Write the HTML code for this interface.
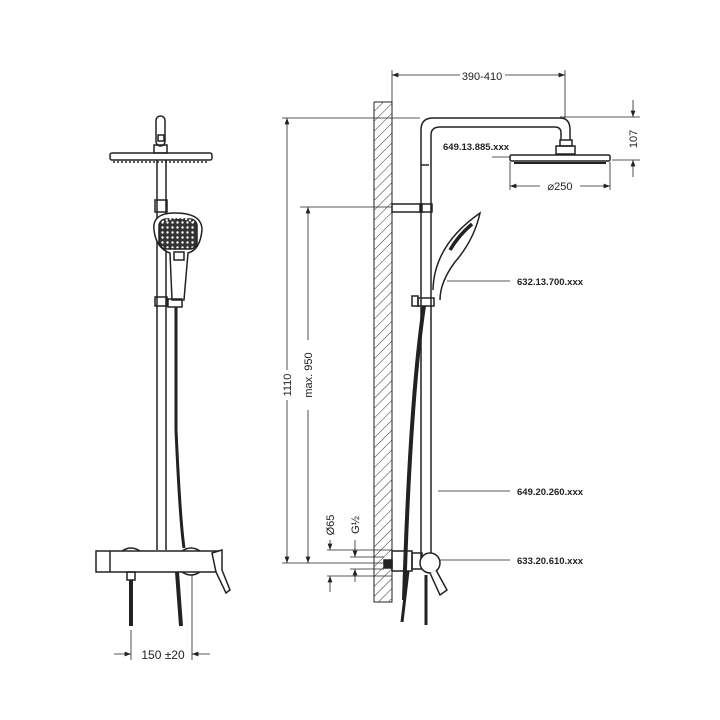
<!DOCTYPE html>
<html><head><style>body{margin:0;background:#fff}svg{display:block}text{font-family:"Liberation Sans",sans-serif;fill:#222}</style></head>
<body>
<svg width="720" height="720" viewBox="0 0 720 720" xmlns="http://www.w3.org/2000/svg">
<defs>
<pattern id="h" width="7" height="7" patternUnits="userSpaceOnUse" patternTransform="rotate(45)"><line x1="0" y1="0" x2="0" y2="7" stroke="#333" stroke-width="1"/></pattern>
<pattern id="d" width="5" height="5" patternUnits="userSpaceOnUse"><rect width="5" height="5" fill="#333"/><circle cx="2.5" cy="2.5" r="1.2" fill="#fff"/></pattern>
<marker id="a" markerWidth="8" markerHeight="6" refX="8" refY="3" orient="auto"><path d="M0,0 L8,3 L0,6z" fill="#222"/></marker>
</defs>
<g stroke="#222" fill="none" stroke-width="1.5">
<!-- LEFT VIEW -->
<rect x="156" y="116" width="9" height="30" rx="4.5"/>
<rect x="158" y="135" width="6" height="6"/>
<rect x="154" y="145" width="13" height="8"/>
<rect x="110" y="153" width="102" height="7" rx="2"/>
<line x1="113" y1="162" x2="209" y2="162" stroke-dasharray="2 2"/>
<line x1="157" y1="160" x2="157" y2="550"/><line x1="166" y1="160" x2="166" y2="550"/>
<rect x="155" y="200" width="12" height="12"/>
<path d="M154,230 Q152,214 172,213 Q202,212 202,230 Q200,250 188,253 L184,300 L172,300 L170,253 Q156,248 154,230z" fill="#fff"/>
<rect x="159" y="219" width="38" height="30" fill="url(#d)" rx="7"/>
<path d="M162,222 Q178,214 194,222" stroke="#fff" stroke-width="2" stroke-dasharray="2 2"/>
<rect x="174" y="252" width="10" height="8" fill="#fff"/>
<rect x="155" y="297" width="12" height="9"/><rect x="168" y="299" width="14" height="8"/>
<line x1="176" y1="307" x2="176" y2="430" stroke-width="3"/>
<path d="M176,430 Q180,520 184,548" stroke-width="3"/>
<rect x="96" y="551" width="124" height="21"/>
<line x1="110" y1="551" x2="110" y2="572"/>
<path d="M122,551 Q131,545 140,551 M182,551 Q191,545 200,551 M182,572 Q191,578 200,572"/>
<path d="M212,553 L222,550 L222,570 L230,590 L226,593 L216,572z" fill="#fff"/>
<rect x="127" y="572" width="8" height="8"/>
<line x1="131" y1="580" x2="131" y2="626" stroke-width="4"/>
<path d="M177,572 Q179,600 181,626" stroke-width="4"/>
<line x1="131" y1="630" x2="131" y2="660" stroke-width="0.8"/><line x1="192" y1="575" x2="192" y2="660" stroke-width="0.8"/>
<line x1="114" y1="654" x2="131" y2="654" stroke-width="0.8" marker-end="url(#a)"/>
<line x1="210" y1="654" x2="192" y2="654" stroke-width="0.8" marker-end="url(#a)"/>
<!-- RIGHT VIEW wall -->
<rect x="374" y="102" width="18" height="500" fill="url(#h)" stroke="none"/>
<path d="M374,102 L392,102 M374,102 L374,602 L392,602 L392,102" stroke-width="1"/>
<!-- column -->
<path d="M421,560 L421,130 Q421,118 433,118 L560,118 Q570,118 570,130 L570,140"/>
<path d="M431,560 L431,135 Q431,127 440,127 L555,127 Q561,127 561,133 L561,140"/>
<rect x="560" y="140" width="12" height="6"/><rect x="556" y="146" width="19" height="8"/>
<rect x="510" y="155" width="100" height="6" rx="1.5"/>
<line x1="514" y1="163" x2="606" y2="163" stroke-width="2"/>
<rect x="392" y="204" width="30" height="8"/><rect x="420" y="204" width="12" height="8"/>
<line x1="421" y1="165" x2="429" y2="165"/>
<path d="M433,290 Q434,245 480,213 Q474,240 455,262 Q440,282 440,300" fill="#fff"/>
<path d="M450,250 Q458,236 472,224" stroke-width="3.5"/>
<rect x="412" y="296" width="6" height="10"/><rect x="418" y="298" width="16" height="8"/>
<path d="M424,306 Q410,400 404,600" stroke-width="4"/>
<!-- mixer -->
<rect x="392" y="551" width="20" height="20"/><rect x="412" y="553" width="10" height="16"/>
<circle cx="430" cy="563" r="10" fill="#fff"/>
<path d="M430,573 L440,595 L447,590 L436,570" fill="#fff"/>
<rect x="384" y="560" width="8" height="8" fill="#222"/>
<line x1="426" y1="575" x2="426" y2="625" stroke-width="3"/>
<path d="M408,571 L402,622" stroke-width="3"/>
<!-- dims -->
<g stroke-width="0.8">
<line x1="392" y1="70" x2="392" y2="102"/><line x1="565" y1="70" x2="565" y2="118"/>
<line x1="460" y1="75" x2="392" y2="75" marker-end="url(#a)"/><line x1="505" y1="75" x2="565" y2="75" marker-end="url(#a)"/>
<line x1="560" y1="117" x2="640" y2="117"/><line x1="612" y1="160" x2="640" y2="160"/>
<line x1="633" y1="100" x2="633" y2="117" marker-end="url(#a)"/><line x1="633" y1="177" x2="633" y2="160" marker-end="url(#a)"/>
<line x1="510" y1="162" x2="510" y2="190"/><line x1="610" y1="162" x2="610" y2="190"/>
<line x1="540" y1="186" x2="510" y2="186" marker-end="url(#a)"/><line x1="580" y1="186" x2="610" y2="186" marker-end="url(#a)"/>
<line x1="492" y1="157" x2="510" y2="157"/>
<line x1="282" y1="118" x2="420" y2="118"/><line x1="300" y1="207" x2="392" y2="207"/>
<line x1="282" y1="563" x2="384" y2="563"/>
<line x1="287" y1="370" x2="287" y2="118" marker-end="url(#a)"/><line x1="287" y1="400" x2="287" y2="563" marker-end="url(#a)"/>
<line x1="308" y1="340" x2="308" y2="207" marker-end="url(#a)"/><line x1="308" y1="410" x2="308" y2="563" marker-end="url(#a)"/>
<line x1="327" y1="550" x2="392" y2="550"/><line x1="327" y1="576" x2="392" y2="576"/>
<line x1="350" y1="557" x2="384" y2="557"/><line x1="350" y1="569" x2="384" y2="569"/>
<line x1="330" y1="540" x2="330" y2="550" marker-end="url(#a)"/><line x1="330" y1="592" x2="330" y2="576" marker-end="url(#a)"/>
<line x1="355" y1="540" x2="355" y2="557" marker-end="url(#a)"/><line x1="355" y1="582" x2="355" y2="569" marker-end="url(#a)"/>
<line x1="447" y1="281" x2="510" y2="281"/><line x1="438" y1="491" x2="510" y2="491"/><line x1="440" y1="560" x2="510" y2="560"/>
</g>
</g>
<text x="163" y="659" font-size="12" text-anchor="middle">150 ±20</text>
<text x="482" y="80" font-size="11" text-anchor="middle">390-410</text>
<text x="560" y="190" font-size="11" text-anchor="middle">⌀250</text>
<text font-size="11" transform="translate(637,139) rotate(-90)" text-anchor="middle">107</text>
<text font-size="11" transform="translate(291,385) rotate(-90)" text-anchor="middle">1110</text>
<text font-size="11" transform="translate(312,375) rotate(-90)" text-anchor="middle">max. 950</text>
<text font-size="11" transform="translate(334,525) rotate(-90)" text-anchor="middle">Ø65</text>
<text font-size="11" transform="translate(359,525) rotate(-90)" text-anchor="middle">G½</text>
<g font-size="9.5" font-weight="bold">
<text x="443" y="150">649.13.885.xxx</text>
<text x="517" y="285">632.13.700.xxx</text>
<text x="517" y="495">649.20.260.xxx</text>
<text x="517" y="564">633.20.610.xxx</text>
</g>
</svg>
</body></html>
